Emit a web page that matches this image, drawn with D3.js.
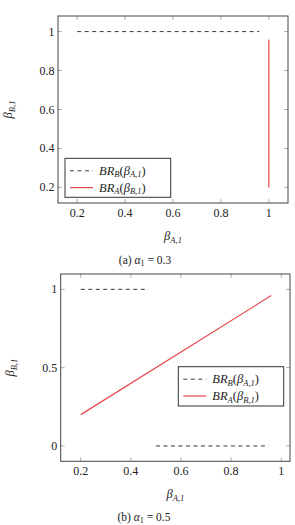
<!DOCTYPE html>
<meta charset="utf-8">
<style>
body { margin: 0; background: #fff; }
svg text { font-family: "Liberation Serif", serif; fill: #222; }
.tick-lbl { font-size: 12px; }
.frame { fill: none; stroke: #444; stroke-width: 1; }
.tk { stroke: #999; stroke-width: 0.8; }
.dash { fill: none; stroke: #222; stroke-width: 0.9; stroke-dasharray: 4,3.5; }
.red { fill: none; stroke: #e8474c; stroke-width: 1.2; }
.leg { fill: #fff; stroke: #333; stroke-width: 1; }
</style>
<svg id="fig" width="295" height="525"></svg>
<script src="https://d3js.org/d3.v7.min.js"></script>
<script>

// panel (a) alpha_1 = 0.3
var xTicksA = [0.2, 0.4, 0.6, 0.8, 1];
var yTicksA = [0.2, 0.4, 0.6, 0.8, 1];
var brB_a = [[0.2, 1], [0.96, 1]];
var brA_a = [[1, 0.2], [1, 0.96]];

// panel (b) alpha_1 = 0.5
var xTicksB = [0.2, 0.4, 0.6, 0.8, 1];
var yTicksB = [0, 0.5, 1];
var brB_b = [[0.2, 1], [0.47, 1], [NaN, NaN], [0.5, 0], [0.95, 0]];
var brA_b = [[0.2, 0.2], [0.96, 0.96]];

var svg = d3.select("#fig");

function panel(o) {
  var x = d3.scaleLinear().domain(o.xd).range([o.l, o.r]);
  var y = d3.scaleLinear().domain(o.yd).range([o.b, o.t]);
  var g = svg.append("g");

  // ticks inside, all four sides
  o.xt.forEach(function(v) {
    g.append("line").attr("class", "tk").attr("x1", x(v)).attr("x2", x(v)).attr("y1", o.b).attr("y2", o.b - 4);
    g.append("line").attr("class", "tk").attr("x1", x(v)).attr("x2", x(v)).attr("y1", o.t).attr("y2", o.t + 4);
    g.append("text").attr("class", "tick-lbl").attr("x", x(v)).attr("y", o.b + 14)
      .attr("text-anchor", "middle").text(String(v));
  });
  o.yt.forEach(function(v) {
    g.append("line").attr("class", "tk").attr("y1", y(v)).attr("y2", y(v)).attr("x1", o.l).attr("x2", o.l + 4);
    g.append("line").attr("class", "tk").attr("y1", y(v)).attr("y2", y(v)).attr("x1", o.r).attr("x2", o.r - 4);
    g.append("text").attr("class", "tick-lbl").attr("x", o.l - 3.5).attr("y", y(v) + 4)
      .attr("text-anchor", "end").text(String(v));
  });

  var line = d3.line()
    .defined(function(d) { return !isNaN(d[0]); })
    .x(function(d) { return x(d[0]); })
    .y(function(d) { return y(d[1]); });

  g.append("path").attr("class", "dash").attr("d", line(o.brB));
  g.append("path").attr("class", "red").attr("d", line(o.brA));

  g.append("rect").attr("class", "frame")
    .attr("x", o.l).attr("y", o.t).attr("width", o.r - o.l).attr("height", o.b - o.t);

  // legend
  var lg = o.leg;
  g.append("rect").attr("class", "leg").attr("x", lg.x).attr("y", lg.y).attr("width", lg.w).attr("height", lg.h);
  var rows = [
    { cls: "dash", sub1: "B", sub2: "A,1" },
    { cls: "red", sub1: "A", sub2: "B,1" }
  ];
  rows.forEach(function(r, i) {
    var ry = lg.y + 12.5 + i * 16.8;
    g.append("line").attr("class", r.cls).attr("x1", lg.x + 5).attr("x2", lg.x + 28).attr("y1", ry).attr("y2", ry);
    var t = g.append("text").attr("x", lg.x + 34).attr("y", ry + 4)
      .style("font-size", "12.5px").style("font-style", "italic");
    t.append("tspan").text("BR");
    t.append("tspan").attr("dy", 2.5).style("font-size", "8.5px").text(r.sub1);
    t.append("tspan").attr("dy", -2.5).style("font-style", "normal").text("(");
    t.append("tspan").text("β");
    t.append("tspan").attr("dy", 2.5).style("font-size", "8.5px").text(r.sub2);
    t.append("tspan").attr("dy", -2.5).style("font-style", "normal").text(")");
  });

  // axis labels
  var xl = g.append("text").attr("x", (o.l + o.r) / 2).attr("y", o.xly)
    .attr("text-anchor", "middle").style("font-size", "12.5px").style("font-style", "italic");
  xl.append("tspan").text("β");
  xl.append("tspan").attr("dy", 2.5).style("font-size", "8.5px").text("A,1");

  var yl = g.append("text")
    .attr("transform", "translate(" + o.ylx + "," + (o.t + o.b) / 2 + ") rotate(-90)")
    .attr("text-anchor", "middle").style("font-size", "12.5px").style("font-style", "italic");
  yl.append("tspan").text("β");
  yl.append("tspan").attr("dy", 2.5).style("font-size", "8.5px").text("B,1");

  // caption
  var c = g.append("text").attr("x", o.capx).attr("y", o.capy)
    .attr("text-anchor", "middle").style("font-size", "11.5px");
  c.append("tspan").text("(" + o.tag + ") ");
  c.append("tspan").style("font-style", "italic").text("α");
  c.append("tspan").attr("dy", 2).style("font-size", "8px").text("1");
  c.append("tspan").attr("dy", -2).text(" = " + o.alpha);
}

panel({
  l: 58, r: 288, t: 16, b: 203, xd: [0.12, 1.08], yd: [0.12, 1.08],
  xt: xTicksA, yt: yTicksA, brB: brB_a, brA: brA_a,
  leg: { x: 65, y: 158.3, w: 105.7, h: 39 },
  xly: 240, ylx: 12, capx: 145, capy: 264, tag: "a", alpha: "0.3"
});

panel({
  l: 60.7, r: 290, t: 274, b: 461.3, xd: [0.12, 1.035], yd: [-0.098, 1.098],
  xt: xTicksB, yt: yTicksB, brB: brB_b, brA: brA_b,
  leg: { x: 178.3, y: 366.7, w: 105.4, h: 39.3 },
  xly: 498, ylx: 14, capx: 144, capy: 521, tag: "b", alpha: "0.5"
});

</script>
